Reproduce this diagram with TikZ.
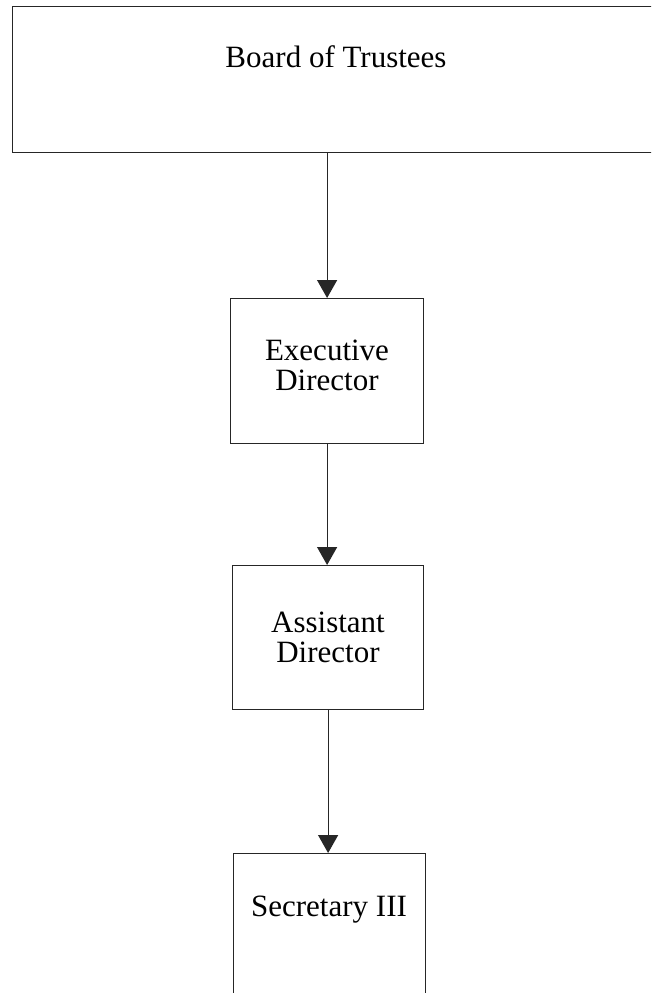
\documentclass[tikz,border=0pt]{standalone}
\usepackage{fontspec}
\setmainfont{Liberation Serif}
\usetikzlibrary{arrows.meta}
\begin{document}
\begin{tikzpicture}[x=1pt,y=1pt,
  box/.style={draw=black!85, line width=1.2pt, fill=none, inner sep=0pt},
  lbl/.style={font=\fontsize{31}{30}\selectfont, align=center, inner sep=0pt},
  conn/.style={draw=black!85, line width=1.2pt, -{Triangle[width=20pt,length=18pt]}}]
\useasboundingbox (0,0) rectangle (651,-993);
\clip (0,0) rectangle (651,-993);
\fill[white] (0,0) rectangle (651,-993);
% Board of Trustees (right side runs off the page)
\node[box, minimum width=700, minimum height=146, anchor=north west] (board) at (12,-6) {};
\node[lbl] (boardtxt) at (336,-57) {Board of Trustees};
% Executive Director
\node[box, minimum width=193, minimum height=145, anchor=north west] (exec) at (230,-298) {};
\node[lbl] (exectxt) at (327,-365) {Executive\\Director};
% Assistant Director
\node[box, minimum width=191, minimum height=144, anchor=north west] (asst) at (232,-565) {};
\node[lbl] (assttxt) at (328,-637) {Assistant\\Director};
% Secretary III (bottom runs off the page)
\node[box, minimum width=192, minimum height=170, anchor=north west] (sec) at (233,-853) {};
\node[lbl] (sectxt) at (329,-910) {Secretary III};
% connectors
\draw[conn] (exec.north |- board.south) -- (exec.north);
\draw[conn] (exec.south) -- (exec.south |- asst.north);
\draw[conn] (asst.south) -- (asst.south |- sec.north);
\end{tikzpicture}
\end{document}
